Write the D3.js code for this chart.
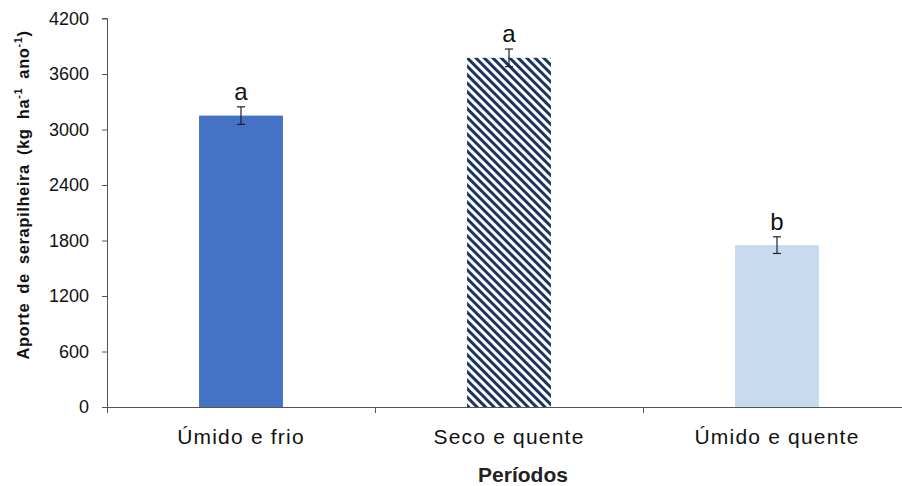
<!DOCTYPE html>
<html>
<head>
<meta charset="utf-8">
<script src="https://cdn.jsdelivr.net/npm/d3@7"></script>
<style>
  html, body { margin: 0; padding: 0; background: #fff; }
  svg { display: block; }
</style>
</head>
<body>
<svg id="chart" width="902" height="486"></svg>
<script>
// Litter input by climatic period
const periods = ["Úmido e frio", "Seco e quente", "Úmido e quente"];
const litterInput = [3150, 3775, 1750];
const stdError = [95, 95, 90];
const groupLetters = ["a", "a", "b"];
const yTicks = [0, 600, 1200, 1800, 2400, 3000, 3600, 4200];

const svg = d3.select("#chart");
const margin = { left: 107, top: 18.5, bottom: 79 };
const bandWidth = 268;
const plotH = 486 - margin.top - margin.bottom;
const sans = "Liberation Sans, Arial, sans-serif";

const x = d3.scaleBand()
  .domain(periods)
  .range([margin.left, margin.left + bandWidth * periods.length])
  .paddingInner(0.687)
  .paddingOuter(0.3435);

const y = d3.scaleLinear().domain([0, 4200]).range([margin.top + plotH, margin.top]);

// diagonal hatch for the dry season bar
const defs = svg.append("defs");
const pat = defs.append("pattern")
  .attr("id", "hatch")
  .attr("patternUnits", "userSpaceOnUse")
  .attr("width", 6).attr("height", 6)
  .attr("patternTransform", "rotate(-45)");
pat.append("rect").attr("width", 6).attr("height", 6).attr("fill", "#fff");
pat.append("rect").attr("x", 0).attr("width", 3).attr("height", 6).attr("fill", "#1c3560");

const fills = ["#4472c4", "url(#hatch)", "#c6dbf0"];

// bars
svg.append("g").selectAll("rect")
  .data(periods)
  .join("rect")
  .attr("x", d => x(d))
  .attr("width", x.bandwidth())
  .attr("y", (d, i) => y(litterInput[i]))
  .attr("height", (d, i) => y(0) - y(litterInput[i]))
  .attr("fill", (d, i) => fills[i]);

// error bars
const eb = svg.append("g").attr("stroke", "#222").attr("stroke-width", 1.2);
periods.forEach((p, i) => {
  const cx = x(p) + x.bandwidth() / 2;
  const lo = y(litterInput[i] - stdError[i]);
  const hi = y(litterInput[i] + stdError[i]);
  eb.append("line").attr("x1", cx).attr("x2", cx).attr("y1", lo).attr("y2", hi);
  eb.append("line").attr("x1", cx - 4).attr("x2", cx + 4).attr("y1", lo).attr("y2", lo);
  eb.append("line").attr("x1", cx - 4).attr("x2", cx + 4).attr("y1", hi).attr("y2", hi);
});

// significance letters
svg.append("g").selectAll("text")
  .data(periods)
  .join("text")
  .attr("x", d => x(d) + x.bandwidth() / 2)
  .attr("y", (d, i) => y(litterInput[i] + stdError[i]) - 7)
  .attr("text-anchor", "middle")
  .attr("font-family", sans)
  .attr("font-size", 24)
  .attr("fill", "#111")
  .text((d, i) => groupLetters[i]);

// y axis
const yAxis = svg.append("g")
  .attr("transform", `translate(${margin.left},0)`)
  .call(d3.axisLeft(y).tickValues(yTicks).tickSize(5).tickPadding(13).tickFormat(d3.format("d")));
yAxis.select(".domain").attr("stroke", "#555").attr("d", `M-5,${y(4200)}H0.5V${y(0)}`);
yAxis.selectAll(".tick line").attr("stroke", "#555");
yAxis.selectAll(".tick text")
  .attr("font-family", sans)
  .attr("font-size", 18).attr("fill", "#111");

// x axis: line with ticks at category boundaries
const xg = svg.append("g").attr("stroke", "#555").attr("stroke-width", 1);
const x0 = margin.left, x1 = margin.left + bandWidth * periods.length;
xg.append("line").attr("x1", x0 - 5).attr("x2", x1).attr("y1", y(0) + 0.5).attr("y2", y(0) + 0.5);
d3.range(periods.length + 1).forEach(k => {
  const xx = margin.left + k * bandWidth + 0.5;
  xg.append("line").attr("x1", xx).attr("x2", xx).attr("y1", y(0)).attr("y2", y(0) + 6);
});

svg.append("g").selectAll("text")
  .data(periods)
  .join("text")
  .attr("x", d => x(d) + x.bandwidth() / 2)
  .attr("y", 444)
  .attr("text-anchor", "middle")
  .attr("font-family", sans)
  .attr("font-size", 21)
  .attr("letter-spacing", 1.2)
  .attr("fill", "#111")
  .text(d => d);

// axis titles
svg.append("text")
  .attr("x", 523).attr("y", 482)
  .attr("text-anchor", "middle")
  .attr("font-family", sans)
  .attr("font-weight", "bold").attr("font-size", 21).attr("fill", "#222")
  .text("Períodos");

const yt = svg.append("text")
  .attr("transform", `translate(29,195) rotate(-90)`)
  .attr("text-anchor", "middle")
  .attr("font-family", sans)
  .attr("font-weight", "bold").attr("font-size", 16.5)
  .attr("letter-spacing", 0.6).attr("word-spacing", 4)
  .attr("fill", "#111");
yt.append("tspan").text("Aporte de serapilheira  (kg ha");
yt.append("tspan").attr("dy", -7).attr("font-size", 11).text("-1");
yt.append("tspan").attr("dy", 7).text(" ano");
yt.append("tspan").attr("dy", -7).attr("font-size", 11).text("-1");
yt.append("tspan").attr("dy", 7).text(")");
</script>
</body>
</html>
